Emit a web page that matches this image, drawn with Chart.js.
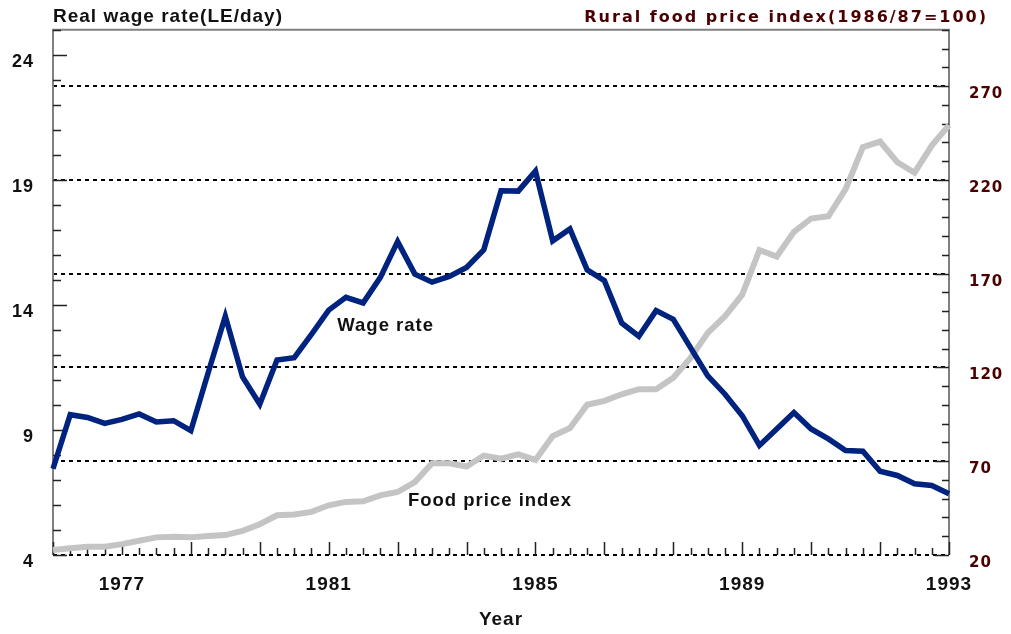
<!DOCTYPE html>
<html>
<head>
<meta charset="utf-8">
<script src="https://cdn.jsdelivr.net/npm/chart.js@4"></script>
<style>
  html, body { margin: 0; padding: 0; background: #fff; }
  #wrap { width: 1011px; height: 634px; }
</style>
</head>
<body>
<div id="wrap"><canvas id="myChart" width="1011" height="634"></canvas></div>
<script>
// three observations a year, 1975 (3rd) to 1993 (1st)
const periods = [
  '1975-3',
  '1976-1','1976-2','1976-3','1977-1','1977-2','1977-3','1978-1','1978-2','1978-3',
  '1979-1','1979-2','1979-3','1980-1','1980-2','1980-3','1981-1','1981-2','1981-3',
  '1982-1','1982-2','1982-3','1983-1','1983-2','1983-3','1984-1','1984-2','1984-3',
  '1985-1','1985-2','1985-3','1986-1','1986-2','1986-3','1987-1','1987-2','1987-3',
  '1988-1','1988-2','1988-3','1989-1','1989-2','1989-3','1990-1','1990-2','1990-3',
  '1991-1','1991-2','1991-3','1992-1','1992-2','1992-3','1993-1'
];

const yearLabels = ['1977', '1981', '1985', '1989', '1993'];

const wageRate = [
  7.45, 9.61, 9.50, 9.26, 9.42, 9.64, 9.32, 9.37, 8.97, 11.28,
  13.55, 11.12, 10.03, 11.80, 11.89, 12.82, 13.79, 14.30, 14.08, 15.10,
  16.53, 15.23, 14.91, 15.14, 15.50, 16.20, 18.56, 18.55, 19.35, 16.56,
  17.04, 15.40, 14.97, 13.28, 12.75, 13.77, 13.42, 12.29, 11.16, 10.43,
  9.57, 8.38, 9.04, 9.70, 9.04, 8.64, 8.18, 8.15, 7.35, 7.18,
  6.85, 6.78, 6.45
];

const foodPrice = [
  22.7, 23.6, 24.4, 24.4, 25.8, 27.6, 29.4, 29.7, 29.4, 30.1,
  30.6, 32.9, 36.4, 41.2, 41.6, 43.0, 46.5, 48.3, 48.6, 51.8,
  53.6, 58.9, 68.9, 68.9, 67.2, 73.0, 71.3, 73.6, 70.7, 83.4,
  87.7, 100.1, 102.2, 105.7, 108.4, 108.4, 114.5, 125.1, 138.4, 147.3,
  158.8, 182.6, 179.1, 192.3, 199.4, 200.6, 215.0, 237.4, 240.4, 229.4,
  223.8, 238.3, 249.2
];

const leftTicks = [4, 9, 14, 19, 24];
const rightTicks = [20, 70, 120, 170, 220, 270];

const darkRed = '#4a0000';
const sans = '"Liberation Sans", Arial, sans-serif';
const wide = '"DejaVu Sans", Verdana, sans-serif';

// frame, dotted grid and inward tick marks
const decor = {
  id: 'decor',
  beforeDraw(chart) {
    chart.ctx.letterSpacing = '1px';
  },
  beforeDatasetsDraw(chart) {
    const { ctx, chartArea: a, scales: { x, y, y1 } } = chart;
    ctx.save();

    ctx.strokeStyle = '#000';
    ctx.lineWidth = 2;
    ctx.setLineDash([4, 4]);
    rightTicks.forEach(v => {
      const py = Math.round(y1.getPixelForValue(v));
      ctx.beginPath();
      ctx.moveTo(a.left, py);
      ctx.lineTo(a.right, py);
      ctx.stroke();
    });
    ctx.setLineDash([]);

    ctx.strokeStyle = '#808080';
    ctx.lineWidth = 2;
    ctx.beginPath();
    ctx.moveTo(a.left, a.bottom);
    ctx.lineTo(a.left, a.top);
    ctx.lineTo(a.right, a.top);
    ctx.lineTo(a.right, a.bottom);
    ctx.stroke();

    ctx.strokeStyle = '#222';
    ctx.lineWidth = 1.5;
    ctx.beginPath();
    for (let v = 4; v <= 25; v++) {
      const py = Math.round(y.getPixelForValue(v)) + 0.5;
      const len = leftTicks.includes(v) ? 14 : 8;
      ctx.moveTo(a.left, py);
      ctx.lineTo(a.left + len, py);
    }
    for (let v = 20; v <= 300; v += 10) {
      const py = Math.round(y1.getPixelForValue(v)) + 0.5;
      const len = rightTicks.includes(v) ? 14 : 7;
      ctx.moveTo(a.right, py);
      ctx.lineTo(a.right - len, py);
    }
    periods.forEach((p, i) => {
      const px = Math.round(x.getPixelForValue(i)) + 0.5;
      const len = i % 4 === 0 ? 13 : 7;
      ctx.moveTo(px, a.bottom);
      ctx.lineTo(px, a.bottom - len);
    });
    ctx.stroke();
    ctx.restore();
  },
  afterDraw(chart) {
    const { ctx, chartArea: a, scales: { x, y, y1 } } = chart;
    ctx.save();
    ctx.textBaseline = 'alphabetic';

    ctx.fillStyle = '#111';
    ctx.letterSpacing = '1px';
    ctx.font = 'bold 19px ' + sans;
    ctx.textAlign = 'left';
    ctx.fillText('Real wage rate(LE/day)', a.left, 22);

    ctx.font = 'bold 18.5px ' + sans;
    ctx.fillText('Wage rate', x.getPixelForValue(16.5), y.getPixelForValue(12.95));
    ctx.fillText('Food price index', x.getPixelForValue(20.6), y1.getPixelForValue(46));

    ctx.fillStyle = darkRed;
    ctx.letterSpacing = '2px';
    ctx.font = 'bold 16px ' + wide;
    ctx.textAlign = 'right';
    ctx.fillText('Rural food price index(1986/87=100)', 988, 22);
    ctx.restore();
  }
};

const ctx = document.getElementById('myChart');

new Chart(ctx, {
  type: 'line',
  data: {
    labels: periods,
    datasets: [
      {
        label: 'Wage rate',
        data: wageRate,
        yAxisID: 'y',
        borderColor: '#00237f',
        borderWidth: 5.5,
        pointRadius: 0,
        tension: 0
      },
      {
        label: 'Food price index',
        data: foodPrice,
        yAxisID: 'y1',
        borderColor: '#c4c4c4',
        borderWidth: 6,
        pointRadius: 0,
        tension: 0
      }
    ]
  },
  options: {
    responsive: false,
    animation: false,
    layout: { padding: { top: 27, left: 0, right: 0, bottom: 0 } },
    plugins: {
      legend: { display: false },
      tooltip: { enabled: false }
    },
    scales: {
      x: {
        grid: { display: false, drawTicks: false },
        border: { display: false },
        ticks: {
          autoSkip: false,
          maxRotation: 0,
          padding: 18,
          color: '#111',
          font: { family: sans, size: 19, weight: 'bold' },
          callback: (value, index) => {
            const [yr, part] = periods[index].split('-');
            return part === '1' && yearLabels.includes(yr) ? yr : '';
          }
        },
        title: {
          display: true,
          text: 'Year',
          color: '#111',
          font: { family: sans, size: 19, weight: 'bold' },
          padding: { top: 0, bottom: 3 }
        },
        afterFit: scale => { scale.height = 79; }
      },
      y: {
        position: 'left',
        min: 4,
        max: 25,
        grid: { display: false, drawTicks: false },
        border: { display: false },
        afterBuildTicks: scale => { scale.ticks = leftTicks.map(v => ({ value: v })); },
        ticks: {
          padding: 19,
          labelOffset: 7,
          color: '#111',
          font: { family: sans, size: 18, weight: 'bold' }
        },
        afterFit: scale => { scale.width = 53; }
      },
      y1: {
        position: 'right',
        min: 20,
        max: 300,
        grid: { display: false, drawTicks: false },
        border: { display: false },
        afterBuildTicks: scale => { scale.ticks = rightTicks.map(v => ({ value: v })); },
        ticks: {
          padding: 20,
          labelOffset: 8,
          color: darkRed,
          font: { family: wide, size: 15, weight: 'bold' }
        },
        afterFit: scale => { scale.width = 62; }
      }
    }
  },
  plugins: [decor]
});
</script>
</body>
</html>
